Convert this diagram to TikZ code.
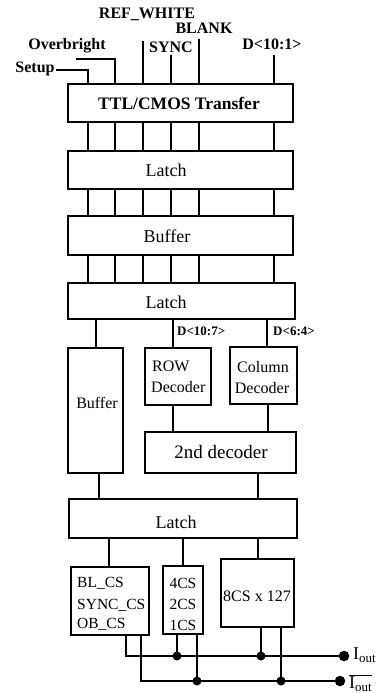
\documentclass[tikz,border=0pt]{standalone}
\usepackage{fontspec}
\setmainfont{Liberation Serif}
\usetikzlibrary{fit}
\begin{document}
\begin{tikzpicture}[x=1pt,y=-1pt,
  wire/.style={line width=1.7pt},
  blk/.style={draw, line width=1.9pt, inner sep=0pt},
  lbl/.style={inner sep=0pt, font=\fontsize{16}{18}\selectfont\bfseries},
  sml/.style={inner sep=0pt, font=\fontsize{13}{15}\selectfont\bfseries},
  txt/.style={inner sep=0pt, font=\fontsize{18}{20}\selectfont},
  mid/.style={inner sep=0pt, font=\fontsize{16}{18}\selectfont},
  cs/.style={inner sep=0pt, font=\fontsize{15.5}{17}\selectfont},
  dot/.style={circle, fill, inner sep=0pt, minimum size=9pt},
  term/.style={circle, fill, inner sep=0pt, minimum size=10.5pt},
]
\useasboundingbox (0,0) rectangle (379,693);

% ---- blocks ----
\node[blk, fit={(68,84) (293,122)}]   (ttl) {};
\node[blk, fit={(68,151) (293,189)}]  (la1) {};
\node[blk, fit={(68,216) (293,255)}]  (bf1) {};
\node[blk, fit={(68,283) (295,319)}]  (la2) {};
\node[blk, fit={(68,348) (123,473)}]  (bf2) {};
\node[blk, fit={(145,348) (211,405)}] (row) {};
\node[blk, fit={(230,347) (297,404)}] (col) {};
\node[blk, fit={(145,432) (296,473)}] (dec2) {};
\node[blk, fit={(69,499) (297,538)}]  (la3) {};
\node[blk, fit={(71,567) (149,635)}]  (blc) {};
\node[blk, fit={(163,566) (203,634)}] (bit) {};
\node[blk, fit={(221,559) (294,627)}] (ecs) {};

% ---- block texts ----
\node[inner sep=0pt, font=\fontsize{17.5}{19}\selectfont\bfseries] (tttl) at (179,103) {TTL/CMOS Transfer};
\node[txt] (tla1) at (166,170) {Latch};
\node[txt] (tbf1) at (167,236) {Buffer};
\node[txt] (tla2) at (166,302) {Latch};
\node[mid] (tbf2) at (97,403) {Buffer};
\node[mid, anchor=west] (trow1) at (152,366) {ROW};
\node[mid, anchor=west] (trow2) at (151,387) {Decoder};
\node[mid] (tcol1) at (263,367) {Column};
\node[mid] (tcol2) at (262,388) {Decoder};
\node[inner sep=0pt, font=\fontsize{19}{21}\selectfont] (tdec2) at (221,452) {2nd decoder};
\node[txt] (tla3) at (176,522) {Latch};
\node[cs, anchor=west] (tbl1) at (77,583) {BL\_CS};
\node[cs, anchor=west] (tbl2) at (77,605) {SYNC\_CS};
\node[cs, anchor=west] (tbl3) at (77,624) {OB\_CS};
\node[cs] (tb4) at (183,583) {4CS};
\node[cs] (tb2) at (183,604) {2CS};
\node[cs] (tb1) at (183,625) {1CS};
\node[mid] (tecs) at (257,596) {8CS x 127};

% ---- column positions of the parallel buses ----
\coordinate (c1) at (88,0);
\coordinate (c2) at (115,0);
\coordinate (c3) at (143,0);
\coordinate (c4) at (171,0);
\coordinate (c5) at (199,0);
\coordinate (c6) at (274,0);

% ---- inputs ----
\node[lbl] (setup) at (35,69) {Setup};
\node[lbl] (over) at (67,46) {Overbright};
\node[lbl] (refw) at (147,14) {REF\_WHITE};
\node[lbl] (blank) at (204,28) {BLANK};
\node[lbl] (sync) at (171,47) {SYNC};
\node[lbl] (dall) at (272,44) {D<10:1>};

\coordinate (setupend) at (56,70);
\coordinate (overend) at (76,59);
\coordinate (refwend) at (143,41);
\coordinate (syncend) at (171,55);
\coordinate (blankend) at (199,39);
\coordinate (dend) at (274,55);

\draw[wire] (setupend) -| (ttl.north -| c1);
\draw[wire] (overend) -| (ttl.north -| c2);
\draw[wire] (refwend) -- (ttl.north -| refwend);
\draw[wire] (syncend) -- (ttl.north -| syncend);
\draw[wire] (blankend) -- (ttl.north -| blankend);
\draw[wire] (dend) -- (ttl.north -| dend);

% ---- parallel buses between the upper stages ----
\foreach \c in {c1,c2,c3,c4,c5,c6}{
  \draw[wire] (ttl.south -| \c) -- (la1.north -| \c);
  \draw[wire] (la1.south -| \c) -- (bf1.north -| \c);
  \draw[wire] (bf1.south -| \c) -- (la2.north -| \c);
}

% ---- decoder section ----
\coordinate (xa) at (96,0);
\coordinate (xb) at (99,0);
\coordinate (xr) at (173,0);
\coordinate (xc) at (267,0);
\coordinate (xd) at (258,0);
\draw[wire] (la2.south -| xa) -- (bf2.north -| xa);
\draw[wire] (la2.south -| xr) -- (row.north -| xr);
\draw[wire] (la2.south -| xc) -- (col.north -| xc);
\node[sml, anchor=west] (d107) at (177,331) {D<10:7>};
\node[sml, anchor=west] (d64) at (273,331) {D<6:4>};
\draw[wire] (row.south -| xr) -- (dec2.north -| xr);
\draw[wire] ([xshift=1pt]col.south -| xc) -- ([xshift=1pt]dec2.north -| xc);
\draw[wire] (bf2.south -| xb) -- (la3.north -| xb);
\draw[wire] (dec2.south -| xd) -- (la3.north -| xd);

% ---- current-source section ----
\coordinate (xe) at (109,0);
\coordinate (xf) at (183,0);
\draw[wire] (la3.south -| xe) -- (blc.north -| xe);
\draw[wire] (la3.south -| xf) -- (bit.north -| xf);
\draw[wire] (la3.south -| xd) -- (ecs.north -| xd);

% ---- output rails ----
\coordinate (io) at (344,656);
\coordinate (iob) at (340,681);
\coordinate (b1) at (126,0);
\coordinate (b2) at (141,0);
\coordinate (b3) at (177,0);
\coordinate (b4) at (197,0);
\coordinate (b5) at (261,0);
\coordinate (b6) at (281,0);

\draw[wire] (blc.south -| b1) |- (io);
\draw[wire] (blc.south -| b2) |- (iob);
\draw[wire] (bit.south -| b3) -- (b3 |- io);
\draw[wire] (bit.south -| b4) -- (b4 |- iob);
\draw[wire] (ecs.south -| b5) -- (b5 |- io);
\draw[wire] (ecs.south -| b6) -- (b6 |- iob);

\node[dot] (j1) at (b3 |- io) {};
\node[dot] (j2) at (b5 |- io) {};
\node[dot] (j3) at (b4 |- iob) {};
\node[dot] (j4) at (b6 |- iob) {};
\node[term] (tio) at (io) {};
\node[term] (tiob) at (iob) {};

\node[inner sep=0pt, anchor=west, font=\fontsize{18}{20}\selectfont] (liout) at (353,655)
  {I\raisebox{-3pt}{\fontsize{13}{14}\selectfont out}};
\node[inner sep=0pt, anchor=south west, font=\fontsize{18}{20}\selectfont] (lioutb) at (349,692)
  {$\overline{\hbox{I\raisebox{-3pt}{\fontsize{13}{14}\selectfont out}}}$};
\end{tikzpicture}
\end{document}
